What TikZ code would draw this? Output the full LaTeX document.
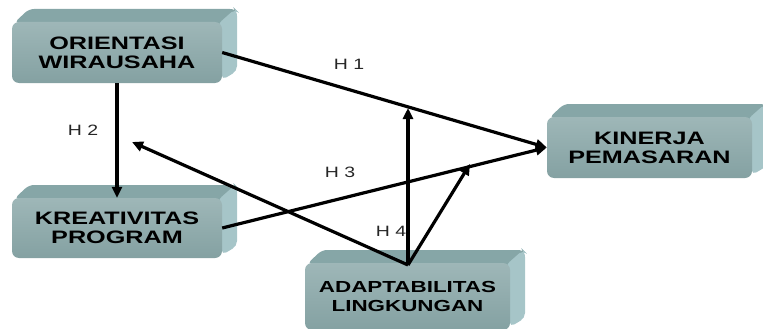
\documentclass[tikz,border=0pt]{standalone}
\usepackage{fontspec}
\setmainfont{Liberation Sans}
\newfontfamily\boxfont[FakeStretch=1.4]{Liberation Sans}
\newfontfamily\labfont[FakeStretch=1.3]{Liberation Sans}
\usetikzlibrary{arrows.meta}
\definecolor{frontc}{HTML}{8DAAAB}
\definecolor{frontd}{HTML}{84A1A2}
\definecolor{topc}{HTML}{86A6A7}
\definecolor{sidec}{HTML}{A6C5C8}
\tikzset{
  mainbox/.style={rounded corners=7pt, top color=frontc!85!white, bottom color=frontd,
    draw=none, inner sep=0pt, align=center, font=\boxfont\bfseries\fontsize{18}{19}\selectfont, text=black},
  link/.style={line width=3.2pt, -{Triangle[length=11pt,width=10pt]}},
  hlab/.style={font=\labfont\fontsize{15}{16}\selectfont, text=black!85}
}
\newcommand\boxthree[6]{%
  \fill[topc, rounded corners=5pt] (#2+2,#3+1) -- (#2+17,#3-13) -- (#4+13,#3-13) -- (#4+15,#3-11) -- (#4,#3+3) -- cycle;
  \fill[sidec, rounded corners=5pt] (#4-4,#3+2) -- (#4+13,#3-13) -- (#4+15,#3-11) -- (#4+15,#5-12) -- (#4,#5-3) -- cycle;
  \node[mainbox, minimum width={(#4-#2)*1pt}, minimum height={(#5-#3)*1pt}] (#1) at ({(#2+#4)/2},{(#3+#5)/2}) {#6};
}
\begin{document}
\begin{tikzpicture}[x=1pt,y=-1pt]
\useasboundingbox (0,0) rectangle (763,329);
\boxthree{ow}{12}{22}{222}{83}{ORIENTASI\\WIRAUSAHA}
\boxthree{kr}{12}{198}{222}{258}{KREATIVITAS\\PROGRAM}
\boxthree{ap}{305}{263}{510}{330}{\fontsize{16}{20}\selectfont ADAPTABILITAS\\\fontsize{16}{20}\selectfont LINGKUNGAN}
\boxthree{kp}{547}{117}{752}{178}{KINERJA\\PEMASARAN}
\coordinate (t1) at (408,108);
\coordinate (t2) at (470,164);
\coordinate (t3) at (132,142);
\coordinate (src) at (408,265);
\draw[link] (ow.east) -- (kp.west);
\draw[link] (kr.east) -- (kp.west);
\draw[link] (ow.south) -- (kr.north);
\draw[link] (src) -- (t1);
\draw[link] (src) -- (t2);
\draw[link] (src) -- (t3);
\node[hlab] (h1) at (349,64) {H 1};
\node[hlab] (h2) at (83,130) {H 2};
\node[hlab] (h3) at (340,172) {H 3};
\node[hlab] (h4) at (391,231) {H 4};
\end{tikzpicture}
\end{document}
